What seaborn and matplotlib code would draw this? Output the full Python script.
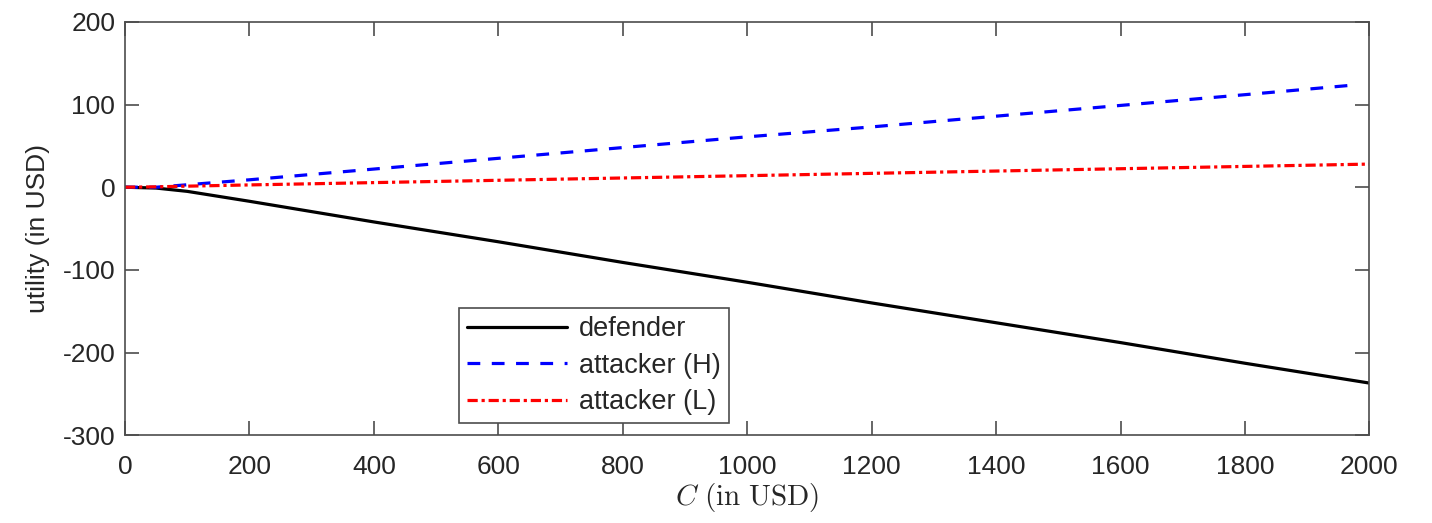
import numpy as np
import pandas as pd
import matplotlib
matplotlib.use("Agg")
import matplotlib.pyplot as plt
import seaborn as sns

# values
cost = [0, 50, 100, 200, 400, 600, 800, 1000, 1200, 1400, 1600, 1800, 2000]
defender = [0, -1, -5, -17, -42, -66, -91, -115, -140, -164, -188, -213, -237]
cost_h = [0, 50, 100, 200, 400, 600, 800, 1000, 1200, 1400, 1600, 1800, 1980]
attacker_h = [0, 0, 3, 9, 22, 35, 48, 61, 73, 86, 99, 112, 124]
attacker_l = [0, 0.5, 1.3, 2.8, 5.6, 8.4, 11.2, 14, 16.8, 19.6, 22.4, 25.2, 28]

sns.set_style("white")
plt.rcParams["font.family"] = ["Liberation Sans", "DejaVu Sans"]
plt.rcParams["mathtext.fontset"] = "cm"
plt.rcParams["axes.unicode_minus"] = False

fig = plt.figure(figsize=(14.32, 5.23), dpi=100)
ax = fig.add_axes([0.0873, 0.168, 0.8690, 0.790])

sns.lineplot(x=cost, y=defender, ax=ax, color="black", lw=2.3, label="defender")
sns.lineplot(x=cost_h, y=attacker_h, ax=ax, color="blue", lw=2.3,
             linestyle=(0, (4, 3.6)), label="attacker (H)")
sns.lineplot(x=cost, y=attacker_l, ax=ax, color="red", lw=2.3,
             linestyle=(0, (3.2, 1.2, 1, 1.2)), label="attacker (L)")

ax.set_xlim(0, 2000)
ax.set_ylim(-300, 200)
ax.set_xticks(np.arange(0, 2001, 200))
ax.set_yticks(np.arange(-300, 201, 100))

grey = "#4d4d4d"
for s in ax.spines.values():
    s.set_visible(True)
    s.set_color(grey)
    s.set_linewidth(1.2)
ax.tick_params(direction="in", length=10, width=1.2, color=grey,
               labelsize=19, labelcolor="#262626", top=True, right=True,
               bottom=True, left=True)
ax.tick_params(axis="x", pad=14)
ax.tick_params(axis="y", pad=7)

ax.set_xlabel(r"$C\ \mathrm{(in\ USD)}$", fontsize=21, color="#262626", labelpad=2)
ax.set_ylabel("utility (in USD)", fontsize=19, color="#262626", labelpad=9)

leg = ax.legend(loc="lower left", bbox_to_anchor=(0.268, 0.029), fontsize=19.5,
                fancybox=False, framealpha=1, edgecolor=grey, handlelength=3.7,
                borderpad=0.3, labelspacing=0.38, handletextpad=0.45,
                borderaxespad=0)
leg.get_frame().set_linewidth(1.2)

fig.savefig("out.png", dpi=100)
